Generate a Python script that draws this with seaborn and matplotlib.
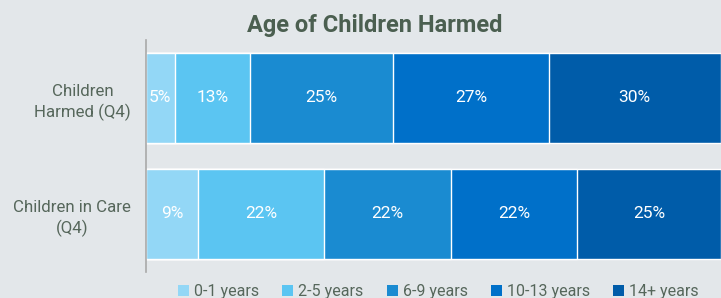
import matplotlib
matplotlib.use("Agg")
import matplotlib.pyplot as plt
import pandas as pd
import seaborn as sns
from matplotlib.patches import Patch

# ─── Data ─────────────────────────────────────────────────────────────────────
groups = ["Children\nHarmed (Q4)", "Children in Care\n(Q4)"]
age_bands = ["0-1 years", "2-5 years", "6-9 years", "10-13 years", "14+ years"]
harmed = [5, 13, 25, 27, 30]
in_care = [9, 22, 22, 22, 25]
colors = ["#93d7f6", "#5bc5f2", "#1a8bd1", "#0070c9", "#005ca9"]

BG = "#e3e7ea"
TEXT = "#56675b"

df = pd.DataFrame({"group": groups * len(age_bands),
                   "band": [b for b in age_bands for _ in groups],
                   "value": [v for pair in zip(harmed, in_care) for v in pair]})
df["band"] = pd.Categorical(df["band"], age_bands, ordered=True)
df = df.sort_values(["group", "band"])
df["cum"] = df.groupby("group")["value"].cumsum()

sns.set_theme(style="white")
plt.rcParams["font.family"] = ["Roboto", "DejaVu Sans"]

fig = plt.figure(figsize=(7.21, 2.98), dpi=100, facecolor=BG)
ax = fig.add_axes([146 / 721, 26 / 298, 575 / 721, 232 / 298], facecolor=BG)

# stacked bars: draw the cumulative totals from largest to smallest
for band, col in reversed(list(zip(age_bands, colors))):
    sub = df[df["band"] == band]
    sns.barplot(data=sub, x="cum", y="group", order=groups, color=col,
                orient="h", width=0.77, saturation=1, errorbar=None, ax=ax)

for _, r in df.iterrows():
    yi = groups.index(r["group"])
    ax.text(r["cum"] - r["value"] / 2, yi, f"{r['value']}%", ha="center",
            va="center", color="white", fontsize=12.5)

ax.set_xlim(0, 100)
ax.set_ylim(1.5, -0.5)
ax.set_xlabel("")
ax.set_ylabel("")
ax.set_xticks([])
ax.set_yticks([0, 1])
ax.set_yticklabels(groups, fontsize=12.2, color=TEXT, linespacing=1.4,
                   multialignment="center")
ax.tick_params(axis="y", length=0, pad=11)
ax.set_yticks([-0.5, 0.5, 1.5], minor=True)
ax.tick_params(axis="y", which="minor", length=4, color="#a9a9a9", width=1.2)
for s in ["top", "right", "bottom"]:
    ax.spines[s].set_visible(False)
ax.spines["left"].set_color("#a9a9a9")
ax.spines["left"].set_linewidth(1.2)

fig.text(0.52, 0.913, "Age of Children Harmed", ha="center", va="center",
         fontsize=17, fontweight="bold", color="#4b5f50")

handles = [Patch(facecolor=c, edgecolor="none") for c in colors]
fig.legend(handles, age_bands, loc="center", bbox_to_anchor=(0.608, 0.022),
           ncol=5, frameon=False, fontsize=11.5, handlelength=0.7,
           handleheight=0.7, handletextpad=0.3, columnspacing=1.45,
           labelcolor=TEXT)

fig.savefig("out.png", dpi=100, facecolor=BG)
